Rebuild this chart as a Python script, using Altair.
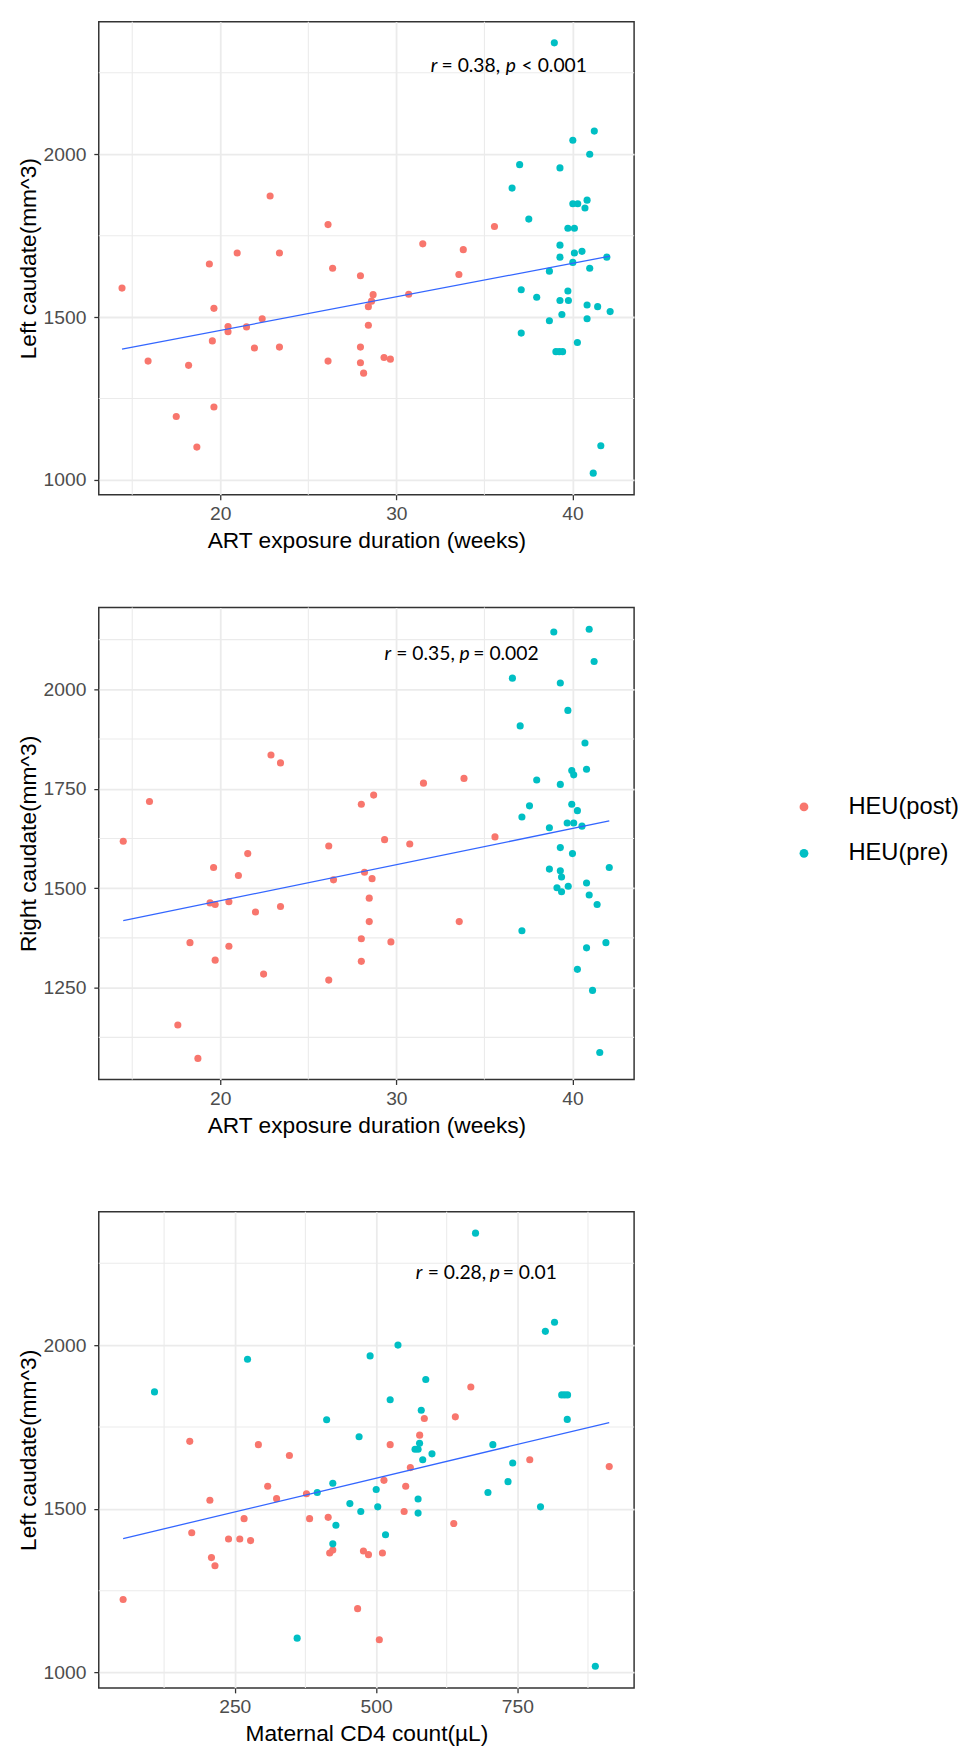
import altair as alt
import pandas as pd

GROUPS = ["HEU(post)", "HEU(pre)"]
COLORS = ["#F8766D", "#00BFC4"]

# ---------------- Panel 1: ART exposure vs left caudate ----------------
p1_post_x = [14.42, 15.9, 17.5, 18.2, 18.67, 19.38, 19.64, 19.55, 19.64, 20.44, 20.44, 20.96,
             21.49, 21.94, 22.38, 22.83, 23.36, 23.36, 26.12, 26.12, 26.38, 27.96, 27.96, 27.96,
             28.14, 28.41, 28.41, 28.59, 28.68, 29.3, 29.66, 30.7, 31.5, 33.55, 33.8, 35.57]
p1_post_y = [1589, 1365, 1195, 1352, 1101, 1663, 1527, 1427, 1224, 1471, 1455, 1697,
             1470, 1405, 1495, 1872, 1697, 1408, 1784, 1365, 1650, 1627, 1408, 1360,
             1328, 1475, 1532, 1549, 1569, 1376, 1371, 1570, 1725, 1631, 1707, 1778]
p1_pre_x = [38.97, 41.24, 40.02, 40.98, 37.0, 39.29, 36.57, 40.83, 40.02, 40.30, 40.71, 37.52,
            39.74, 40.11, 39.29, 40.11, 40.54, 39.29, 41.95, 40.02, 40.98, 38.69, 37.09, 39.74,
            37.97, 39.29, 39.77, 40.83, 41.43, 42.14, 39.4, 38.69, 40.83, 37.09, 40.28, 39.06,
            39.25, 39.44, 41.61, 41.18]
p1_pre_y = [2342, 2071, 2043, 2000, 1968, 1958, 1896, 1859, 1848, 1848, 1835, 1801,
            1773, 1773, 1721, 1697, 1702, 1684, 1684, 1668, 1650, 1641, 1584, 1580,
            1561, 1551, 1551, 1537, 1532, 1517, 1508, 1489, 1495, 1451, 1422, 1394,
            1394, 1394, 1105, 1021]

# ---------------- Panel 2: ART exposure vs right caudate ----------------
p2_post_x = [14.49, 15.98, 17.59, 18.28, 18.73, 19.42, 19.62, 19.71, 19.71, 20.49, 20.49, 21.03,
             21.56, 22.0, 22.46, 22.88, 23.42, 23.42, 26.16, 26.16, 26.43, 28.01, 28.01, 28.01,
             28.19, 28.46, 28.46, 28.62, 28.71, 29.33, 29.69, 30.76, 31.54, 33.57, 33.84, 35.6]
p2_post_y = [1618, 1718, 1156, 1363, 1072, 1463, 1552, 1459, 1319, 1466, 1354, 1532,
             1587, 1440, 1284, 1835, 1815, 1454, 1606, 1269, 1521, 1711, 1373, 1316,
             1540, 1475, 1416, 1524, 1734, 1622, 1365, 1611, 1764, 1416, 1776, 1629]
p2_pre_x = [38.94, 40.95, 41.23, 36.59, 39.31, 39.74, 37.03, 40.71, 40.8, 39.96, 40.07, 37.97,
            39.31, 39.96, 40.28, 37.56, 37.13, 39.7, 40.07, 40.54, 38.69, 39.31, 40.0, 42.09,
            38.69, 39.31, 39.38, 40.8, 39.12, 39.76, 39.38, 40.95, 41.4, 37.13, 41.9, 40.8,
            40.28, 41.14, 41.55]
p2_pre_y = [2144, 2151, 2070, 2028, 2016, 1947, 1908, 1865, 1799, 1796, 1785, 1772,
            1761, 1711, 1695, 1707, 1679, 1664, 1664, 1656, 1652, 1602, 1587, 1552,
            1548, 1544, 1528, 1513, 1501, 1505, 1491, 1483, 1459, 1393, 1363, 1350,
            1296, 1243, 1087]

# ---------------- Panel 3: maternal CD4 vs left caudate ----------------
p3_post_x = [52.5, 170.4, 173.9, 206, 208.8, 215, 239, 258.9, 266.5, 278, 291.8, 308.3,
             324, 346.7, 376.9, 382.4, 415.3, 418, 423.5, 467.4, 477.7, 486.6, 505.8, 511.3,
             514, 525, 549.7, 552.5, 560.7, 577.2, 585.4, 637.5, 640.3, 667.7, 772, 912.6]
p3_post_y = [1223, 1706, 1427, 1526, 1351, 1326, 1408, 1408, 1470, 1403, 1696, 1569,
             1531, 1663, 1546, 1470, 1474, 1365, 1374, 1195, 1371, 1360, 1100, 1365,
             1587, 1696, 1492, 1569, 1626, 1725, 1776, 1455, 1781, 1872, 1650, 1629]
p3_pre_x = [108, 272.6, 360.4, 396, 412.6, 423.5, 429, 423.5, 453.7, 470, 473, 489.5,
            500.3, 503, 516.8, 525, 538.8, 569, 574.4, 574.4, 574.4, 577, 580, 582.6,
            588, 599, 676, 698, 706.7, 733.5, 741.8, 791, 799.6, 815.8, 828.5, 833.7,
            838.9, 838.3, 888]
p3_pre_y = [1857, 1957, 1105, 1550, 1772, 1578, 1450, 1393, 1516, 1720, 1492, 1967,
            1559, 1506, 1421, 1833, 2000, 1682, 1682, 1530, 1487, 1700, 1801, 1650,
            1895, 1668, 2342, 1550, 1696, 1583, 1640, 1506, 2042, 2070, 1848, 1848,
            1848, 1773, 1019]

# tick / grid values
art_major = [20, 30, 40]
art_minor = [15, 25, 35]
cd4_major = [250, 500, 750]
cd4_minor = [125, 375, 625, 875]
left_major = [1000, 1500, 2000]
left_minor = [1250, 1750, 2250]
right_major = [1250, 1500, 1750, 2000]
right_minor = [1125, 1375, 1625, 1875, 2125]

# annotation texts (pieces: italic / normal)
ann1 = ["r", "= 0.38,", "p", "< 0.001"]
ann2 = ["r", "= 0.35,", "p", "= 0.002"]
ann3 = ["r", "= 0.28,", "p", "= 0.01"]

GRID = "#EBEBEB"
AXIS_FONT = "Liberation Sans"


def make_df(px, py, qx, qy):
    return pd.DataFrame({
        "x": px + qx,
        "y": py + qy,
        "group": [GROUPS[0]] * len(px) + [GROUPS[1]] * len(qx),
    })


legend = alt.Legend(
    title=None, orient="none", legendX=702, legendY=783,
    labelFont=AXIS_FONT, labelFontSize=24, labelColor="#000000",
    symbolType="circle", symbolSize=80, symbolOpacity=1, symbolStrokeWidth=0,
    labelOffset=33, rowPadding=23, padding=0,
)


def panel(df, xdom, ydom, xmaj, xmin, ymaj, ymin, xtitle, ytitle,
          pieces, ax, ay, offsets, width, height):
    xs = alt.Scale(domain=xdom, nice=False, zero=False)
    ys = alt.Scale(domain=ydom, nice=False, zero=False)
    xaxis = alt.Axis(values=xmaj, format="d", grid=True, gridColor=GRID, gridWidth=1.8,
                     ticks=True, tickColor="#333333", tickSize=5, tickWidth=1.3,
                     domain=False, labelFont=AXIS_FONT, labelFontSize=19.5,
                     labelColor="#4D4D4D", labelPadding=5, title=xtitle,
                     titleFont=AXIS_FONT, titleFontSize=23, titleFontWeight="normal",
                     titleColor="#000000", titlePadding=7)
    yaxis = alt.Axis(values=ymaj, format="d", grid=True, gridColor=GRID, gridWidth=1.8,
                     ticks=True, tickColor="#333333", tickSize=5, tickWidth=1.3,
                     domain=False, labelFont=AXIS_FONT, labelFontSize=19.5,
                     labelColor="#4D4D4D", labelPadding=8, title=ytitle,
                     titleFont=AXIS_FONT, titleFontSize=23, titleFontWeight="normal",
                     titleColor="#000000", titlePadding=3)
    vgrid = alt.Chart(pd.DataFrame({"v": xmin})).mark_rule(
        color=GRID, strokeWidth=1.1).encode(x=alt.X("v:Q", scale=xs, axis=xaxis))
    hgrid = alt.Chart(pd.DataFrame({"v": ymin})).mark_rule(
        color=GRID, strokeWidth=1.1).encode(y=alt.Y("v:Q", scale=ys, axis=yaxis))
    points = alt.Chart(df).mark_circle(size=52, opacity=1).encode(
        x=alt.X("x:Q", scale=xs, axis=xaxis),
        y=alt.Y("y:Q", scale=ys, axis=yaxis),
        color=alt.Color("group:N",
                        scale=alt.Scale(domain=GROUPS, range=COLORS),
                        legend=legend),
    )
    line = alt.Chart(df).transform_regression("x", "y").mark_line(
        color="#3366FF", strokeWidth=1.3).encode(
        x=alt.X("x:Q", scale=xs, axis=xaxis),
        y=alt.Y("y:Q", scale=ys, axis=yaxis),
    )
    texts = []
    for i, (t, dx) in enumerate(zip(pieces, offsets)):
        texts.append(
            alt.Chart(pd.DataFrame({"t": [t]})).mark_text(
                align="left", baseline="middle", dx=dx, font="Lato",
                fontSize=19.5, fontStyle="italic" if i % 2 == 0 else "normal",
                color="#000000").encode(
                x=alt.X(datum=ax, type="quantitative", scale=xs, axis=xaxis),
                y=alt.Y(datum=ay, type="quantitative", scale=ys, axis=yaxis),
                text="t:N",
            )
        )
    return alt.layer(vgrid, hgrid, points, line, *texts).properties(
        width=width, height=height)


df1 = make_df(p1_post_x, p1_post_y, p1_pre_x, p1_pre_y)
df2 = make_df(p2_post_x, p2_post_y, p2_pre_x, p2_pre_y)
df3 = make_df(p3_post_x, p3_post_y, p3_pre_x, p3_pre_y)

c1 = panel(df1, [13.1, 43.5], [954.5, 2407], art_major, art_minor, left_major, left_minor,
           "ART exposure duration (weeks)", "Left caudate(mm^3)",
           ann1, 31.95, 2271.6, [0, 11, 76, 92], 542, 479)
c2 = panel(df2, [13.1, 43.5], [1019, 2206], art_major, art_minor, right_major, right_minor,
           "ART exposure duration (weeks)", "Right caudate(mm^3)",
           ann2, 29.32, 2088, [0, 12, 76, 90], 542, 478)
c3 = panel(df3, [9.4, 956.6], [953, 2407], cd4_major, cd4_minor, left_major, left_minor,
           "Maternal CD4 count(\u00b5L)", "Left caudate(mm^3)",
           ann3, 570.3, 2218.7, [0, 12, 75, 88], 542, 482).properties(
    title=alt.TitleParams(" ", fontSize=14, offset=6))

chart = alt.vconcat(c1, c2, c3, spacing=52).properties(
    padding={"left": 16, "top": 9, "right": 3, "bottom": 0},
    background="white",
).configure_view(stroke="#333333", strokeWidth=1.5)

chart.save("out.html", embed_options={"renderer": "svg", "actions": False})
